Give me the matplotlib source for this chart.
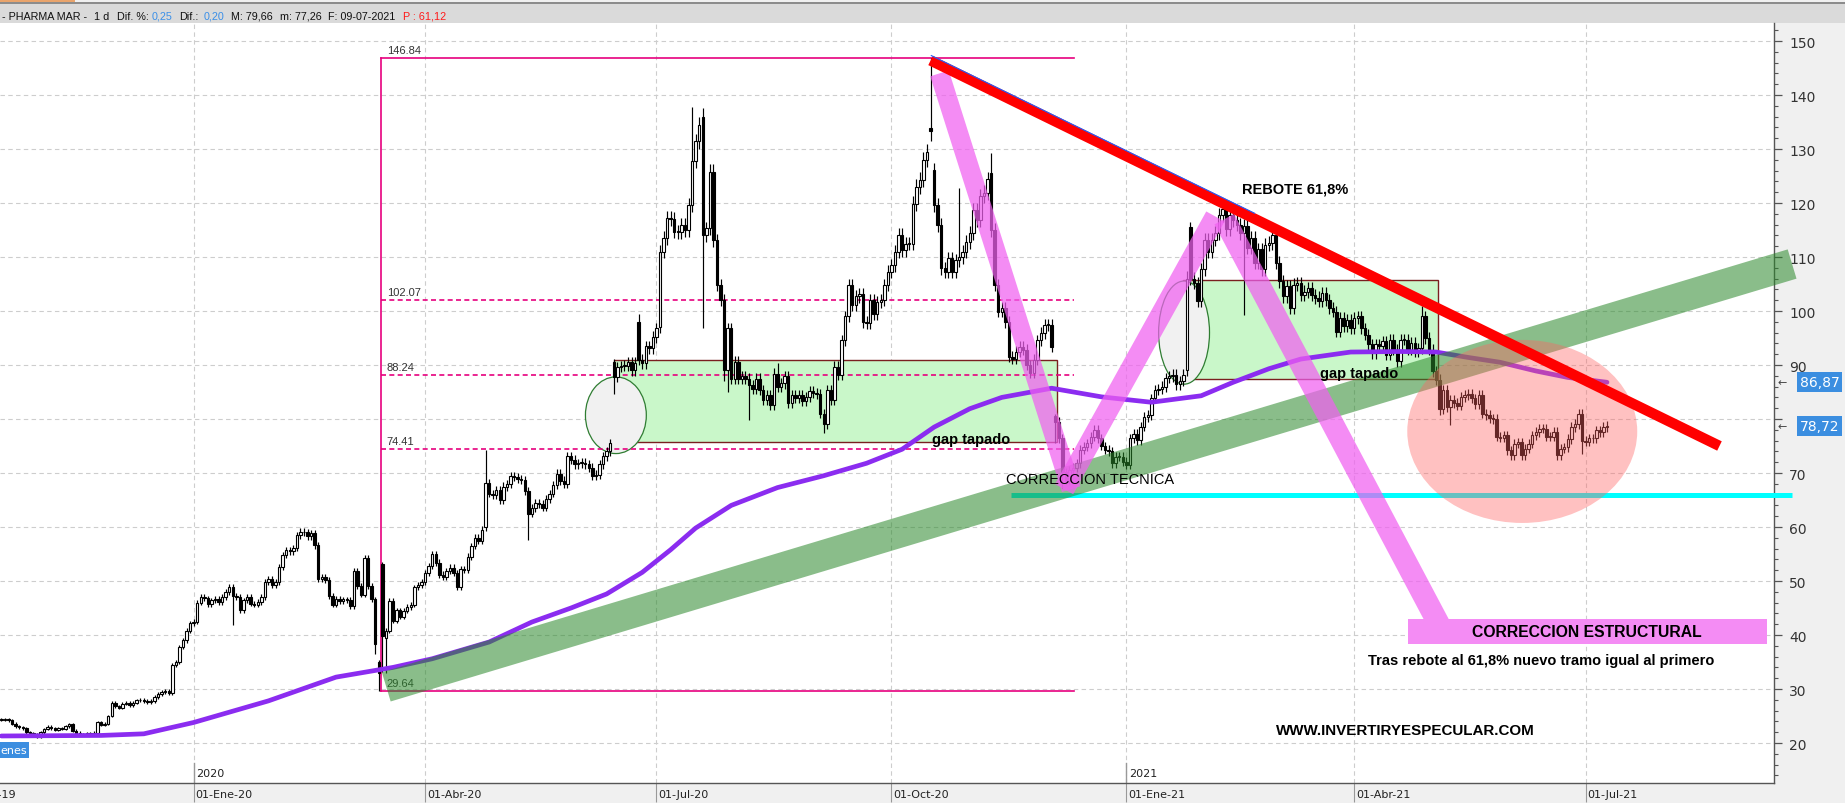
import numpy as np
import pandas as pd
import matplotlib
matplotlib.use("Agg")
import matplotlib.pyplot as plt
from matplotlib.patches import Rectangle, Ellipse
from matplotlib.transforms import blended_transform_factory as btf
from matplotlib import font_manager

# ---------------- data ----------------
closes = [
    24.3, 24.4, 24.2, 23.6, 23.1, 22.9, 22.7, 22.0, 21.8, 21.7,
    21.1, 22.0, 22.6, 23.0, 22.7, 22.5, 22.8, 22.6, 23.1, 23.5,
    22.3, 21.9, 21.7, 21.6, 21.8, 21.7, 21.9, 23.8, 23.4, 23.6,
    25.0, 27.4, 26.8, 26.5, 27.3, 27.4, 27.0, 27.5, 27.9, 28.0,
    27.8, 27.6, 27.8, 28.5, 29.1, 29.4, 29.6, 29.2, 34.4, 35.0,
    37.8, 39.0, 40.8, 42.2, 42.5, 46.0, 47.0, 46.8, 45.7, 46.4,
    46.7, 46.1, 47.0, 48.0, 48.9, 47.3, 47.0, 44.6, 46.4, 47.0,
    45.8, 45.6, 46.1, 47.0, 49.9, 50.3, 49.2, 49.8, 52.6, 54.8,
    55.7, 55.5, 56.1, 58.5, 59.1, 59.0, 58.3, 58.8, 56.6, 50.4,
    50.7, 50.2, 47.2, 45.6, 46.7, 46.3, 46.6, 46.5, 45.4, 51.8,
    49.1, 47.5, 54.3, 49.1, 46.6, 38.3, 33.0, 39.8, 40.8, 46.3,
    42.6, 44.6, 43.4, 44.5, 45.2, 45.6, 48.8, 49.3, 49.8, 51.5,
    52.8, 55.0, 53.4, 51.2, 50.7, 51.8, 52.5, 51.5, 48.9, 52.2,
    52.0, 54.5, 56.5, 58.0, 57.4, 59.5, 68.2, 66.2, 66.0, 66.9,
    65.0, 67.5, 67.9, 69.5, 69.3, 68.9, 68.7, 66.6, 62.5, 63.5,
    64.5, 64.3, 63.6, 65.2, 66.2, 67.8, 69.9, 68.6, 68.0, 73.1,
    72.5, 71.6, 71.8, 71.9, 71.6, 71.0, 69.5, 69.7, 71.6, 73.1,
    74.0, 75.5,
    87.8, 89.6, 89.8, 89.9, 90.5, 89.0, 90.4,
    91.0, 90.3, 93.5, 93.1, 95.2, 96.8, 111.0, 113.5, 117.2, 117.0,
    114.7, 114.6, 115.9, 115.0, 119.6, 127.8, 131.4, 134.4, 114.1, 115.3,
    125.8, 113.1, 104.8, 102.0, 89.1, 96.8, 87.5, 90.6, 87.5, 88.0,
    87.5, 86.3, 85.5, 87.5, 85.3, 83.5, 84.4, 82.6, 88.4, 86.0,
    86.6, 87.9, 82.9, 84.4, 83.8, 84.5, 83.3, 84.0, 85.1,
    84.8, 84.6, 81.0, 79.0, 85.4, 83.5, 89.7, 88.1, 94.6, 99.0,
    104.8, 101.1, 102.7, 103.1, 98.0, 97.7, 102.0, 99.5, 101.7, 102.0,
    104.8, 107.3, 108.5, 111.0, 114.1, 111.3, 112.5, 112.5, 119.9, 123.0,
    124.3, 128.0, 129.5, 133.3,
    119.6, 115.9, 107.9, 107.3, 109.8, 107.3, 109.4, 110.0,
    111.0, 112.8, 114.4, 118.7, 116.9, 121.3, 121.9, 124.4, 115.0, 104.8,
    99.9, 100.5, 98.0, 91.5, 91.2, 92.5, 93.4, 92.8, 90.0, 88.5,
    91.0, 94.6, 95.9, 97.4, 97.4, 93.4,
    79.5, 76.4, 70.2, 68.7, 70.5, 71.0, 71.8, 74.3, 74.9, 75.5,
    76.7, 78.0, 76.4, 75.0, 74.3, 74.0, 71.8, 73.0, 73.0, 72.1,
    71.5, 76.4, 77.3, 76.1, 78.6, 80.4, 80.7, 83.8, 85.4, 85.6,
    86.0, 87.6, 87.9, 88.2, 86.4, 87.0, 88.2,
    106.0, 106.0,
    105.2, 101.8, 107.7, 113.2, 111.0, 113.2, 114.4, 117.8, 118.8, 115.1,
    117.8, 116.9, 116.0, 114.4, 115.7, 111.7, 113.5, 108.9, 111.4, 107.7,
    112.3, 112.6, 114.1, 108.9, 105.5, 102.7, 104.6, 100.6, 104.9, 105.2,
    103.0, 103.6, 104.2, 103.0, 102.5, 101.8, 103.3, 102.1, 100.6, 99.9,
    96.2, 98.7, 97.2, 98.4, 96.8, 98.7, 99.0, 96.8, 95.6, 93.8,
    92.2, 93.8, 93.5, 94.4, 91.9, 94.7, 92.8, 90.7, 94.7, 94.7,
    92.8, 94.1, 92.5, 93.1, 99.0, 95.0, 92.8, 88.8, 87.3, 81.9,
    85.3, 82.2, 83.5, 82.9, 82.5, 84.1, 84.4, 84.7, 83.8, 82.8,
    84.4, 81.0, 80.7, 80.1, 80.0, 76.7, 76.5, 77.0, 74.2, 73.3,
    75.4, 75.7, 73.3, 74.5, 75.4, 77.0, 77.6, 78.2, 78.2, 76.7,
    76.7, 77.6, 73.3, 74.5, 74.8, 76.3, 78.5, 79.1, 81.0, 76.0,
    75.8, 76.4, 76.4, 77.9, 77.6, 78.5, 78.72,
]

# candle index -> (open, high, low); None keeps the default
candle_overrides = {
    65: (None, None, 41.8), 105: (None, None, 36.5),
    106: (35.0, 35.3, 29.64), 107: (53.2, 53.6, 33.1), 108: (39.5, None, 33.0),
    136: (60.0, 74.2, None), 148: (None, None, 57.6),
    172: (90.5, 91.2, 84.7), 179: (98.0, 99.5, None), 185: (97.0, 112.2, None),
    194: (None, 137.7, None), 197: (136.0, 137.6, 96.8),
    203: (None, None, 87.0), 204: (None, None, 85.0), 210: (None, None, 79.8),
    218: (None, 90.3, None), 231: (None, None, 77.5),
    261: (133.8, 146.84, 131.5), 262: (126.1, None, None),
    269: (None, 122.7, None), 278: (125.5, 129.2, None),
    296: (80.5, 81.0, 75.5), 298: (None, None, 67.2),
    333: (89.0, 107.5, 88.0), 334: (115.5, 116.5, None),
    349: (None, None, 99.3), 399: (None, 100.9, None),
    404: (None, None, 80.7), 407: (None, None, 78.8), 444: (None, None, 73.6),
}

ma_idx = [0, 28, 40, 54, 75, 94, 110, 121, 137, 149, 160, 170, 180, 188, 195, 205,
          218, 231, 243, 253, 262, 272, 281, 295, 309, 323, 337, 346, 356, 365,
          379, 393, 403, 412, 421, 431, 440, 451]
ma_val = [21.3, 21.4, 21.7, 23.8, 27.8, 32.2, 34.0, 35.6, 38.7, 42.4, 45.0, 47.6,
          51.6, 55.8, 59.8, 64.0, 67.3, 69.5, 71.8, 74.4, 78.5, 81.9, 84.0, 85.7,
          84.1, 83.1, 84.3, 86.8, 89.3, 91.1, 92.4, 92.5, 92.4, 91.4, 90.5, 88.9,
          87.7, 86.8]

fib_levels = [146.84, 102.07, 88.24, 74.41, 29.64]
fib_labels = ["146.84", "102.07", "88.24", "74.41", "29.64"]
ytick_values = list(range(20, 151, 10))
ytick_hidden = [80]          # covered by the last-value tag in the reference
tick_dates = ["2019-10-01", "2020-01-01", "2020-04-01", "2020-07-01",
              "2020-10-01", "2021-01-01", "2021-04-01", "2021-07-01"]
tick_labels = ["01-Oct-19", "01-Ene-20", "01-Abr-20", "01-Jul-20",
               "01-Oct-20", "01-Ene-21", "01-Abr-21", "01-Jul-21"]
year_dates = ["2020-01-01", "2021-01-01"]
year_labels = ["2020", "2021"]
last_values = [86.87, 78.72]
last_labels = ["86,87", "78,72"]
header_parts = [("- PHARMA MAR -", 0, "#111111"), ("1 d", 92, "#111111"),
                ("Dif. %:", 115, "#111111"), ("0,25", 150, "#3a8fe8"),
                ("Dif.:", 177, "#111111"), ("0,20", 202, "#3a8fe8"),
                ("M: 79,66", 229, "#111111"), ("m: 77,26", 278, "#111111"),
                ("F: 09-07-2021", 326, "#111111"), ("P : 61,12", 401, "#ff1a1a")]
last_date = "2021-07-09"

# ---------------- fonts ----------------
avail = {f.name for f in font_manager.fontManager.ttflist}
if "Liberation Sans Narrow" in avail:
    NARROW, FS = "Liberation Sans Narrow", 1.0
else:
    NARROW, FS = "Liberation Sans", 0.84

# ---------------- figure ----------------
W, H = 1845, 804
AX_TOP, AX_BOT = 24, 784
fig = plt.figure(figsize=(W / 100, H / 100), dpi=100, facecolor="#f0f0f0")
ax = fig.add_axes([0, (H - AX_BOT) / H, 1774 / W, (AX_BOT - AX_TOP) / H])
ax.set_facecolor("white")
PX_PER_DAY = 3.56
PX_PER_UNIT = 5.4
ax.set_xlim(-0.4, -0.4 + 1774 / PX_PER_DAY)
ax.set_ylim(150 - (AX_BOT - 42) / PX_PER_UNIT, 150 + (42 - AX_TOP) / PX_PER_UNIT)

# header
fig.add_artist(Rectangle((0, 1 - 24 / H), 1, 19.5 / H, transform=fig.transFigure,
                         fc="#dadada", ec="none", zorder=0))
fig.add_artist(Rectangle((0, 1 - 4.5 / H), 1, 1.3 / H, transform=fig.transFigure,
                         fc="#8c8c8c", ec="none", zorder=0))
fig.add_artist(Rectangle((0, 1 - 3 / H), 75 / W, 3 / H, transform=fig.transFigure,
                         fc="#e9a46c", ec="none", zorder=0))
for txt, px, col in header_parts:
    fig.text(px / W + 0.001, 1 - 19.5 / H, txt, color=col, fontsize=9.2 * FS,
             family=NARROW, va="baseline", ha="left")

# dates / ticks
n = len(closes)
dates = pd.bdate_range(end=last_date, periods=n)
start = dates[0].date()
tick_pos = [int(np.busday_count(start, pd.Timestamp(d).date())) for d in tick_dates]
year_pos = [int(np.busday_count(start, pd.Timestamp(d).date())) for d in year_dates]

# grid
for yv in ytick_values:
    ax.axhline(yv, color="#cdcdcd", lw=0.8, ls=(0, (4, 3)), zorder=0.5)
for p in tick_pos:
    ax.axvline(p, color="#cdcdcd", lw=0.8, ls=(0, (4, 3)), zorder=0.5)

trX = btf(ax.transData, ax.transAxes)
for p, lab in zip(tick_pos, tick_labels):
    ax.text(p + 0.5, -0.0145, lab, transform=trX, fontsize=8, color="#222222",
            va="center", ha="left", clip_on=False)
for p, lab in zip(year_pos, year_labels):
    ax.plot([p, p], [0, 0.026], transform=trX, color="#999999", lw=1.0, zorder=1)
    ax.text(p + 0.8, 0.013, lab, transform=trX, fontsize=8, color="#222222",
            va="center", ha="left")

# green gap boxes and ellipses
ax.add_patch(Rectangle((172.1, 75.7), 124.3, 15.3, fc="#c9f7c9", ec="#7a1f1f", lw=1.0, zorder=1))
ax.add_patch(Rectangle((332.0, 87.5), 71.6, 18.3, fc="#c9f7c9", ec="#7a1f1f", lw=1.0, zorder=1))
ax.add_patch(Ellipse((172.6, 80.7), 17.1, 14.2, fc="#f1f1f1", ec="#2f7d32", lw=0.9, zorder=1.3))
ax.add_patch(Ellipse((332.2, 96.0), 14.3, 19.1, fc="#f1f1f1", ec="#2f7d32", lw=0.9, zorder=1.3))

# fibonacci frame
FIB = "#e6007e"
fx0, fx1 = 106.7, 301.4
ax.plot([fx0, fx0], [fib_levels[-1], fib_levels[0]], color=FIB, lw=1.2, zorder=1.6)
for lv, lab in zip(fib_levels, fib_labels):
    ls = "-" if lv in (fib_levels[0], fib_levels[-1]) else (0, (3, 2))
    ax.plot([fx0, fx1], [lv, lv], color=FIB, lw=1.2, ls=ls, zorder=1.6)
    ax.text(fx0 + 1.5, lv + 0.5, lab, fontsize=9.5 * FS, family=NARROW,
            color="#333333", va="bottom", ha="left", zorder=1.7)

# candles
c = np.array(closes, float)
o = np.r_[c[0], c[:-1]]
WICK = 0.011
for i, (ov, hv, lv) in candle_overrides.items():
    if ov is not None:
        o[i] = ov
hi = np.maximum(o, c) * (1 + WICK)
lo = np.minimum(o, c) * (1 - WICK)
for i, (ov, hv, lv) in candle_overrides.items():
    if hv is not None:
        hi[i] = hv
    if lv is not None:
        lo[i] = lv
x = np.arange(n)
up = c >= o
body_lo = np.minimum(o, c)
body_h = np.maximum(np.abs(c - o), 0.15)
ax.vlines(x, lo, hi, color="black", lw=0.85, zorder=3)
ax.bar(x[up], body_h[up], bottom=body_lo[up], width=0.68, facecolor="white",
       edgecolor="black", lw=0.8, zorder=3.1)
ax.bar(x[~up], body_h[~up], bottom=body_lo[~up], width=0.68, facecolor="black",
       edgecolor="black", lw=0.8, zorder=3.1)

# moving average
ax.plot(ma_idx, ma_val, color="#8b2cf0", lw=3.4, zorder=4, solid_capstyle="round",
        solid_joinstyle="round")

# cyan support
ax.plot([283.6, 503.0], [65.9, 65.9], color="#00ffff", lw=3.6, zorder=4.6,
        solid_capstyle="butt", clip_on=False)

# green trend band
ax.plot([108.1, 503.0], [30.4, 108.7], color="#2a882a", alpha=0.55, lw=22,
        solid_capstyle="butt", zorder=5, clip_on=False)

# pink swing bands
PINK = "#f060f0"
ax.plot([263.5, 300.5], [144.0, 67.0], color=PINK, alpha=0.72, lw=14, solid_capstyle="butt", zorder=5.5)
ax.plot([298.5, 341.0], [67.0, 117.5], color=PINK, alpha=0.72, lw=15, solid_capstyle="butt", zorder=5.5)
ax.plot([343.5, 404.9], [117.0, 40.6], color=PINK, alpha=0.72, lw=16, solid_capstyle="butt", zorder=5.5)

# pink target rectangle
ax.add_patch(Rectangle((395.0, 38.3), 101.0, 4.7, fc="#f48cf4", ec="none", zorder=5.6))

# pink ellipse
ax.add_patch(Ellipse((427.2, 77.7), 64.6, 33.9, fc="#ff6464", alpha=0.4, ec="none", zorder=6))

# red resistance line + thin blue
ax.plot([261.0, 482.6], [146.4, 75.0], color="#ff0000", lw=7.5, solid_capstyle="butt", zorder=7)
ax.plot([261.2, 352.0], [147.3, 118.1], color="#1f5fff", lw=0.8, zorder=7.1)

# annotations
def note(xd, yd, s, size, bold=True):
    ax.text(xd, yd, s, fontsize=size * FS, family=NARROW,
            fontweight="bold" if bold else "normal", color="black",
            ha="center", va="center", zorder=8)

note(363.5, 122.7, "REBOTE 61,8%", 12.5)
note(272.5, 76.3, "gap tapado", 12.5)
note(381.5, 88.5, "gap tapado", 12.5)
note(305.8, 68.9, "CORRECCION TECNICA", 12.5, bold=False)
note(445.2, 40.6, "CORRECCION ESTRUCTURAL", 13.5)
note(432.6, 35.4, "Tras rebote al 61,8% nuevo tramo igual al primero", 12.5)
note(394.4, 22.4, "WWW.INVERTIRYESPECULAR.COM", 13)

# left "enes" tag
trY = btf(ax.transAxes, ax.transData)
ax.text(0.0, 18.7, "enes", transform=trY, fontsize=8, color="white", va="center", ha="left",
        bbox=dict(boxstyle="square,pad=0.25", fc="#3b8ee0", ec="none"), zorder=8)

# last value tags
for v, lab in zip(last_values, last_labels):
    ax.text(1.002, v, "\u2190", transform=trY, fontsize=8, color="#444444",
            va="center", ha="left", clip_on=False)
    ax.text(1.0145, v, lab, transform=trY, fontsize=10, color="white", va="center",
            ha="left", clip_on=False, zorder=9,
            bbox=dict(boxstyle="square,pad=0.2", fc="#3b8ee0", ec="none"))

# axes styling
for s in ("left", "top"):
    ax.spines[s].set_visible(False)
for s in ("right", "bottom"):
    ax.spines[s].set_color("#555555")
    ax.spines[s].set_linewidth(1.0)
ax.yaxis.tick_right()
ax.set_yticks(ytick_values)
ax.set_yticklabels(["" if v in ytick_hidden else str(v) for v in ytick_values])
ax.set_yticks(np.arange(14, 154, 2), minor=True)
ax.tick_params(axis="y", which="major", length=6, width=0.9, color="#555555",
               labelsize=10, labelcolor="#333333", pad=5)
ax.tick_params(axis="y", which="minor", length=3, width=0.8, color="#555555")
ax.set_xticks([p for p in tick_pos if p >= 0])
ax.set_xticklabels([])
ax.tick_params(axis="x", length=14, width=0.8, color="#999999", direction="out")

fig.savefig("out.png", dpi=100, facecolor=fig.get_facecolor())
